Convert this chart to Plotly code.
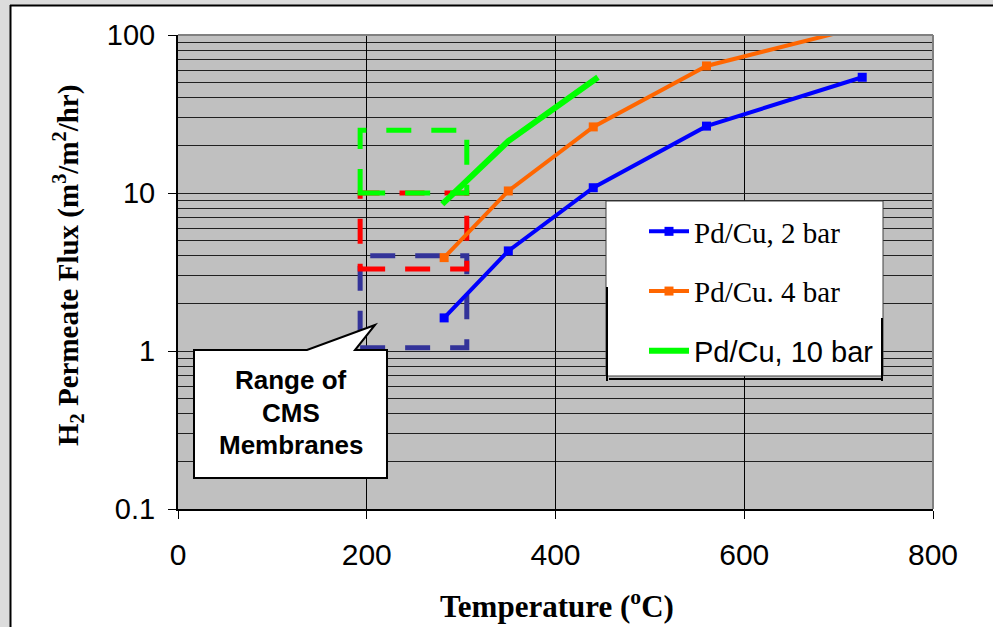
import plotly.graph_objects as go

# ---- data ----
temp_2bar = [282, 350, 440, 560, 725]
flux_2bar = [1.62, 4.3, 10.8, 26.5, 54]
temp_4bar = [282, 350, 440, 560, 725]
flux_4bar = [3.9, 10.3, 26.2, 63.7, 113]
temp_10bar = [280, 350, 445]
flux_10bar = [8.5, 21.3, 54]

series_names = ["Pd/Cu, 2 bar", "Pd/Cu. 4 bar",
                "<span style='font-family:Liberation Sans, Arial'>Pd/Cu, 10 bar</span>"]

# CMS membrane ranges (temperature span, flux span)
cms_temp = [193, 306]
cms_flux_10bar = [10, 25]
cms_flux_4bar = [3.3, 10]
cms_flux_2bar = [1.05, 4]

x_ticks = [0, 200, 400, 600, 800]
y_ticks = [0.1, 1, 10, 100]
y_ticktext = ["0.1", "1", "10", "100"]

# ---- layout geometry (pixels) ----
W, H = 993, 627
L, R, T, B = 178, 933, 35, 509


def px(x):
    return (x - L) / (R - L)


def py(y):
    return (B - y) / (B - T)


fig = go.Figure()
fig.add_trace(go.Scatter(x=temp_2bar, y=flux_2bar, name=series_names[0], mode="lines+markers",
                         line=dict(color="#0000ff", width=4),
                         marker=dict(symbol="square", size=9, color="#0000ff"),
                         legendgroup="a"))
fig.add_trace(go.Scatter(x=temp_4bar, y=flux_4bar, name=series_names[1], mode="lines+markers",
                         line=dict(color="#ff6600", width=4),
                         marker=dict(symbol="square", size=9, color="#ff6600"),
                         legendgroup="b", cliponaxis=True))
fig.add_trace(go.Scatter(x=temp_10bar, y=flux_10bar, name=series_names[2], mode="lines",
                         line=dict(color="#00ff00", width=6),
                         legendgroup="c"))

shapes = []
# outer frame
shapes.append(dict(type="rect", xref="paper", yref="paper", x0=px(0), x1=px(W), y0=py(0), y1=py(5),
                   fillcolor="#dcdcdc", line=dict(width=0), layer="above"))
shapes.append(dict(type="rect", xref="paper", yref="paper", x0=px(0), x1=px(10), y0=py(0), y1=py(H),
                   fillcolor="#dcdcdc", line=dict(width=0), layer="above"))
shapes.append(dict(type="line", xref="paper", yref="paper", x0=px(10), x1=px(W), y0=py(5.5), y1=py(5.5),
                   line=dict(color="black", width=2), layer="above"))
shapes.append(dict(type="line", xref="paper", yref="paper", x0=px(10.5), x1=px(10.5), y0=py(5), y1=py(H),
                   line=dict(color="black", width=2), layer="above"))
# plot area grey border top/right
shapes.append(dict(type="line", xref="paper", yref="paper", x0=0, x1=1, y0=1, y1=1,
                   line=dict(color="#808080", width=2), layer="above"))
shapes.append(dict(type="line", xref="paper", yref="paper", x0=1, x1=1, y0=0, y1=1,
                   line=dict(color="#808080", width=2), layer="above"))

# dashed CMS range boxes
for flux, col in [(cms_flux_2bar, "#333399"), (cms_flux_4bar, "#ff0000"), (cms_flux_10bar, "#00ff00")]:
    shapes.append(dict(type="rect", xref="x", yref="y", x0=cms_temp[0], x1=cms_temp[1],
                       y0=flux[0], y1=flux[1], line=dict(color=col, width=5, dash="25px,20px"),
                       fillcolor="rgba(0,0,0,0)", layer="between"))

# callout box
pts = [(194, 350), (307, 350), (375, 325), (355, 350), (387, 350), (387, 478), (194, 478)]
path = "M " + " L ".join(f"{px(a):.5f},{py(b):.5f}" for a, b in pts) + " Z"
shapes.append(dict(type="path", xref="paper", yref="paper", path=path, fillcolor="white",
                   line=dict(color="black", width=2), layer="above"))

# legend box
shapes.append(dict(type="rect", xref="paper", yref="paper", x0=px(606), x1=px(883), y0=py(376), y1=py(201),
                   fillcolor="white", line=dict(color="#404040", width=1), layer="above"))
shapes.append(dict(type="line", xref="paper", yref="paper", x0=px(609), x1=px(882), y0=py(379), y1=py(379),
                   line=dict(color="black", width=2), layer="above"))
shapes.append(dict(type="line", xref="paper", yref="paper", x0=px(607), x1=px(607), y0=py(287), y1=py(381),
                   line=dict(color="black", width=2), layer="above"))
shapes.append(dict(type="line", xref="paper", yref="paper", x0=px(882), x1=px(882), y0=py(318), y1=py(381),
                   line=dict(color="black", width=2), layer="above"))

annotations = []
for txt, yy in [("Range of", 380), ("CMS", 413), ("Membranes", 445)]:
    annotations.append(dict(text=f"<b>{txt}</b>", xref="paper", yref="paper", x=px(291), y=py(yy),
                            showarrow=False, xanchor="center", yanchor="middle",
                            font=dict(family="Liberation Sans, Arial", size=26, color="black")))
annotations.append(dict(text="<b>Temperature (<sup>o</sup>C)</b>", xref="paper", yref="paper",
                        x=px(557), y=py(604), showarrow=False, xanchor="center", yanchor="middle",
                        font=dict(family="Liberation Serif, Times New Roman", size=31, color="black")))
annotations.append(dict(text="<b>H<sub>2</sub> Permeate Flux (m<sup>3</sup>/m<sup>2</sup>/hr)</b>",
                        xref="paper", yref="paper", x=px(68), y=py(266), showarrow=False, textangle=-90,
                        xanchor="center", yanchor="middle",
                        font=dict(family="Liberation Serif, Times New Roman", size=29, color="black")))

minor_vals = [m * 10.0 ** e for e in (-1, 0, 1) for m in range(2, 10)]

fig.update_layout(
    width=W, height=H,
    margin=dict(l=L, r=W - R, t=T, b=H - B, pad=0),
    paper_bgcolor="white", plot_bgcolor="#c0c0c0",
    shapes=shapes, annotations=annotations,
    showlegend=True,
    legend=dict(x=px(644), y=py(206), xanchor="left", yanchor="top",
                bgcolor="rgba(0,0,0,0)", borderwidth=0,
                font=dict(family="Liberation Serif, Times New Roman", size=29, color="black"),
                traceorder="grouped", tracegroupgap=19, itemwidth=40),
    xaxis=dict(range=[0, 800], tickvals=x_ticks, showgrid=True, gridcolor="black", gridwidth=1,
               showline=True, linecolor="black", linewidth=2, ticks="outside", ticklen=8,
               tickcolor="black", tickfont=dict(family="Liberation Sans, Arial", size=30, color="black"),
               ticklabelstandoff=10, zeroline=False, fixedrange=True),
    yaxis=dict(type="log", range=[-1, 2], tickvals=y_ticks, ticktext=y_ticktext,
               showgrid=True, gridcolor="#202020", gridwidth=1,
               minor=dict(tickvals=minor_vals, showgrid=True, gridcolor="#202020", gridwidth=1, ticks=""),
               showline=True, linecolor="black", linewidth=2, ticks="outside", ticklen=8,
               tickcolor="black", tickfont=dict(family="Liberation Sans, Arial", size=29, color="black"),
               ticklabelstandoff=7, zeroline=False, fixedrange=True),
)

fig.write_html("out.html")
